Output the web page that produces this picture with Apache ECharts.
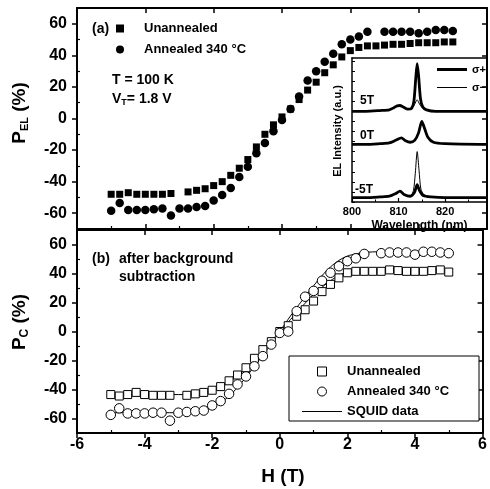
<!DOCTYPE html>
<html><head><meta charset="utf-8">
<script src="https://cdn.jsdelivr.net/npm/echarts@6/dist/echarts.min.js"></script>
<style>html,body{margin:0;padding:0;background:#fff}#c{width:490px;height:489px}</style>
</head><body><div id="c"></div>
<script>
// ---- data ----
const H = [-5,-4.75,-4.5,-4.25,-4,-3.75,-3.5,-3.25,-3,-2.75,-2.5,-2.25,-2,-1.75,-1.5,-1.25,-1,-0.75,-0.5,-0.25,0,0.25,0.5,0.75,1,1.25,1.5,1.75,2,2.25,2.5,2.75,3,3.25,3.5,3.75,4,4.25,4.5,4.75,5];
// panel (a) P_EL
const elUnannealed = [-48,-48,-47,-48,-48,-48,-48,-47.5,null,-46.5,-45.5,-44.5,-42.5,-40,-36,-31.5,-26,-18,-10,-4,1,6,12,18,23,29,34,39,43,45,46,46,46.5,47,47,47.5,48,48,48,48.5,48.5];
const elAnnealed = [-58.5,-53.5,-58,-58,-58,-57.5,-57,-61.5,-57,-57,-56,-55.5,-52,-48.5,-44,-37,-30.5,-22,-15.5,-8,-1,6,14,24,30,36,41,47,50,52,55,null,55,55,55,55,54,55,56,56,55.5];
// panel (b) P_C
const pcUnannealed = [-43.5,-44.5,-43.5,-42,-43.5,-44,-44,-44,null,-44,-43,-42,-40.5,-38,-34,-30,-25,-18.5,-12.5,-7,0,4,10.5,15,21,27.5,32.5,37,40.5,41.5,41.5,41.5,41.5,42.5,42,41.5,41.5,41.5,42,42.5,41];
const pcAnnealed = [-57.5,-53,-56.5,-56.5,-56.5,-56,-56,-61.5,-56,-55.5,-55,-54.5,-51,-48,-43,-36.5,-31,-24,-17,-9,-1,0,14,24,28,35,40.5,45,48.5,50.5,53.5,null,54,54.5,54.5,54.5,53,55,55,54.5,54];
// SQUID data
const squidH = [-5,-4,-3,-2.5,-2,-1.75,-1.5,-1.25,-1,-0.75,-0.5,-0.25,0,0.25,0.5,0.75,1,1.25,1.5,1.75,2,2.25,2.5,3,4,5];
const squidUn = [-43.5,-43.5,-43.5,-43,-41,-38.5,-35,-30.5,-25.5,-19.5,-13,-6.5,0,6.5,13,19.5,25.5,30.5,35,38.5,41,42,42.5,42.5,42.5,42.5];
const squidAn = [-56,-56,-56,-55,-52,-49,-44.5,-38.5,-31.5,-24,-16.5,-8.5,0,8.5,16.5,24,31.5,38.5,44.5,49,52,53.5,54.5,55,55,55];
// inset spectra (EL intensity, a.u., offset)
const wl5p  = [800,803,806,808,809,809.7,810.3,811,812,812.8,813.3,813.7,814,814.3,814.7,815.2,816,818,822,829];
const in5p  = [63,63,63.5,64,65.5,66.8,67,66,64.5,65,70,86,96,88,72,66,64,63,63,63];
const wl5m  = [800,803,806,808,809,809.7,810.3,811,812,812.8,813.4,814,814.5,815.2,816,818,822,829];
const in5m  = [63,63,63.5,64,65.5,66.8,67,66,64.5,65,67.5,71,68,65,64,63,63,63];
const wl0   = [800,803,806,808,809.5,810.6,811.5,812.5,813.5,814.3,815,815.6,816.3,817.5,820,829];
const in0p  = [40,40,40.5,41,43,44.5,42.5,41.5,43,48,56,51,45,41.5,40.5,40];
const in0m  = [40,40,40.5,41,43,44.5,42.5,41.5,43,48,55,50,44.5,41.5,40.5,40];
const wlN5p = [800,803,806,808,809.5,810.3,811.3,812.5,813.4,814,814.5,815.3,817,820,829];
const inN5p = [3,3,3.5,4,6,7.5,5,4,6.5,12,8,4.5,3.5,3,3];
const wlN5m = [800,803,806,808,809.5,810.3,811.3,812.5,813.2,813.6,814,814.4,814.8,815.5,817,820,829];
const inN5m = [3,3,3.5,4,6,7.5,5,4,8,20,35,22,9,5,3.5,3,3];
// ticks
const hMinor = [-5,-3,-1,1,3,5];
const pTicks = [-60,-40,-20,0,20,40,60];
const pMinor = [-50,-30,-10,10,30,50];
const wlTicks = [800,810,820];
const wlMinor = [805,815,825];
const inTicks = [0,7,14,21,28,35,42,49,56,63,70,77,84,91,98];

// ---- build ----
const F = '"Liberation Sans", Arial, sans-serif';
const K = '#000';
function pairs(xs, ys){ const o=[]; xs.forEach((x,i)=>{ if(ys[i]!==null) o.push([x,ys[i]]); }); return o; }
const noLine = {show:false, onZero:false};

function xAx(grid, pos, o){
  return Object.assign({type:'value', gridIndex:grid, position:pos, min:-6, max:6, interval:2,
    axisLine:{show:true, onZero:false, lineStyle:{color:K, width:2}},
    axisTick:{show:true, inside:true, length:5, lineStyle:{color:K, width:1.5}},
    axisLabel:{show:false}, splitLine:{show:false}}, o||{});
}
function yAx(grid, pos, o){
  return Object.assign({type:'value', gridIndex:grid, position:pos, min:-70, max:70,
    axisLine:{show:true, onZero:false, lineStyle:{color:K, width:2}},
    axisTick:{show:true, inside:true, length:5, customValues:pTicks, lineStyle:{color:K, width:1.5}},
    axisLabel:{show:false}, splitLine:{show:false}}, o||{});
}
const minorX = (grid) => xAx(grid,'bottom',{axisLine:noLine, axisTick:{show:true, inside:true, length:3, customValues:hMinor, lineStyle:{color:K,width:1.2}}});
const minorY = (grid) => yAx(grid,'left',{axisLine:noLine, axisTick:{show:true, inside:true, length:3, customValues:pMinor, lineStyle:{color:K,width:1.2}}});
const yLab = {show:true, customValues:pTicks, fontSize:16, fontWeight:'bold', fontFamily:F, color:K, margin:10};

const xAxis = [
  xAx(0,'bottom'),
  xAx(0,'top'),
  xAx(1,'bottom',{axisTick:{show:true, inside:false, length:5, lineStyle:{color:K,width:1.5}},
      axisLabel:{show:true, fontSize:16, fontWeight:'bold', fontFamily:F, color:K, margin:4}}),
  xAx(1,'top'),
  minorX(0),
  minorX(1),
  {type:'value', gridIndex:2, position:'bottom', min:800, max:829,
    axisLine:{show:true, onZero:false, lineStyle:{color:K, width:1.5}},
    axisTick:{show:true, inside:true, length:4, customValues:wlTicks, lineStyle:{color:K,width:1.2}},
    axisLabel:{show:true, customValues:wlTicks, fontSize:11, fontWeight:'bold', fontFamily:F, color:K, margin:4},
    name:'Wavelength (nm)', nameLocation:'middle', nameGap:18,
    nameTextStyle:{fontSize:12, fontWeight:'bold', fontFamily:F, color:K},
    splitLine:{show:false}},
  {type:'value', gridIndex:2, position:'bottom', min:800, max:829,
    axisLine:noLine, axisTick:{show:true, inside:true, length:2.5, customValues:wlMinor, lineStyle:{color:K,width:1}},
    axisLabel:{show:false}, splitLine:{show:false}},
  {type:'value', gridIndex:2, position:'top', min:800, max:829,
    axisLine:{show:true, onZero:false, lineStyle:{color:K, width:1.5}}, axisTick:{show:false},
    axisLabel:{show:false}, splitLine:{show:false}}
];
const yAxis = [
  yAx(0,'left',{axisTick:{show:true, inside:false, length:5, customValues:pTicks, lineStyle:{color:K,width:1.5}}, axisLabel:yLab}),
  yAx(0,'right'),
  minorY(0),
  yAx(1,'left',{axisTick:{show:true, inside:false, length:5, customValues:pTicks, lineStyle:{color:K,width:1.5}}, axisLabel:yLab}),
  yAx(1,'right'),
  minorY(1),
  {type:'value', gridIndex:2, position:'left', min:0, max:100,
    axisLine:{show:true, onZero:false, lineStyle:{color:K, width:1.5}},
    axisTick:{show:true, inside:true, length:3, customValues:inTicks, lineStyle:{color:K,width:1}},
    axisLabel:{show:false}, splitLine:{show:false}},
  {type:'value', gridIndex:2, position:'right', min:0, max:100,
    axisLine:{show:true, onZero:false, lineStyle:{color:K, width:1.5}}, axisTick:{show:false},
    axisLabel:{show:false}, splitLine:{show:false}}
];

const openStyle = {color:'#fff', borderColor:K, borderWidth:1, opacity:1};
const solidStyle = {color:K, opacity:1};
const spec = (name, xs, ys, w) => ({type:'line', name, xAxisIndex:6, yAxisIndex:6, data:pairs(xs,ys),
  showSymbol:false, symbol:'none', smooth:0.25, lineStyle:{color:K, width:w}, itemStyle:{color:K}, z:3, silent:true});

const series = [
  {type:'scatter', name:'Unannealed', xAxisIndex:0, yAxisIndex:0, data:pairs(H, elUnannealed), symbol:'rect', symbolSize:7, itemStyle:solidStyle},
  {type:'scatter', name:'Annealed 340 °C', xAxisIndex:0, yAxisIndex:0, data:pairs(H, elAnnealed), symbol:'circle', symbolSize:8.5, itemStyle:solidStyle},
  {type:'line', name:'SQUID data', xAxisIndex:2, yAxisIndex:3, data:pairs(squidH, squidUn), symbol:'none', showSymbol:false, smooth:0.4, lineStyle:{color:K, width:1}, itemStyle:{color:K}, z:2},
  {type:'line', name:'SQUID data', xAxisIndex:2, yAxisIndex:3, data:pairs(squidH, squidAn), symbol:'none', showSymbol:false, smooth:0.4, lineStyle:{color:K, width:1}, itemStyle:{color:K}, z:2},
  {type:'scatter', name:'Unannealed', xAxisIndex:2, yAxisIndex:3, data:pairs(H, pcUnannealed), symbol:'rect', symbolSize:8, itemStyle:openStyle, z:4},
  {type:'scatter', name:'Annealed 340 °C', xAxisIndex:2, yAxisIndex:3, data:pairs(H, pcAnnealed), symbol:'circle', symbolSize:9.5, itemStyle:openStyle, z:4},
  spec('σ+', wl5p, in5p, 2.8), spec('σ−', wl5m, in5m, 1),
  spec('σ+', wl0, in0p, 2.8), spec('σ−', wl0, in0m, 1),
  spec('σ+', wlN5p, inN5p, 2.8), spec('σ−', wlN5m, inN5m, 1)
];

const SQ = 'path://M0,0H10V10H0Z';
const legTxt = {fontSize:13, fontWeight:'bold', fontFamily:F, color:K};
const legend = [
  {orient:'vertical', left:116, top:22, itemWidth:38, itemHeight:8, itemGap:8, padding:0, selectedMode:false,
   textStyle:legTxt,
   data:[{name:'Unannealed', icon:SQ, itemStyle:{color:K, borderWidth:0}},
         {name:'Annealed 340 °C', icon:'circle', itemStyle:{color:K, borderWidth:0}}]},
  {orient:'vertical', left:289, top:356, itemWidth:40, itemHeight:9, itemGap:7, padding:[9,30,3,13], selectedMode:false,
   borderColor:K, borderWidth:1, backgroundColor:'#fff', textStyle:legTxt,
   data:[{name:'Unannealed', icon:SQ, itemStyle:openStyle},
         {name:'Annealed 340 °C', icon:'circle', itemStyle:openStyle},
         {name:'SQUID data', icon:'path://M0,0H40V1H0Z', itemStyle:{color:K, borderWidth:0}}]},
  {orient:'vertical', left:437, top:64, itemWidth:30, itemHeight:8, itemGap:7, padding:0, selectedMode:false,
   textStyle:{fontSize:11, fontWeight:'bold', fontFamily:F, color:K},
   data:[{name:'σ+', icon:'path://M0,0H30V3H0Z', itemStyle:{color:K, borderWidth:0}},
         {name:'σ−', icon:'path://M0,0H30V1H0Z', itemStyle:{color:K, borderWidth:0}}]}
];

function txt(x, y, text, size, extra){
  return {type:'text', x, y, z:100,
    style:Object.assign({text, fontSize:size, fontWeight:'bold', fontFamily:F, fill:K, verticalAlign:'middle', align:'left'}, extra||{})};
}
const sub = (big, small) => ({
  big:{fontSize:big, fontWeight:'bold', fontFamily:F, fill:K, lineHeight:big+2},
  sm:{fontSize:small, fontWeight:'bold', fontFamily:F, fill:K, verticalAlign:'bottom', lineHeight:small+1, padding:[Math.round(big*0.6),0,0,0]}
});
const graphic = [
  txt(92, 29, '(a)', 14),
  txt(112, 80, 'T = 100 K', 14),
  {type:'text', x:112, y:99, z:100, style:{text:'{big|V}{sm|T}{big|= 1.8 V}', rich:sub(14,9), verticalAlign:'middle', align:'left'}},
  txt(92, 259, '(b)', 14),
  txt(119, 259, 'after background', 14),
  txt(119, 277, 'subtraction', 14),
  txt(360, 101, '5T', 12),
  txt(360, 136, '0T', 12),
  txt(355, 190, '-5T', 12),
  {type:'text', x:338, y:131, z:100, rotation:Math.PI/2, style:{text:'EL Intensity (a.u.)', fontSize:11, fontWeight:'bold', fontFamily:F, fill:K, align:'center', verticalAlign:'middle'}},
  {type:'text', x:20, y:113, z:100, rotation:Math.PI/2, style:{text:'{big|P}{sm|EL}{big| (%)}', rich:sub(19,11), align:'center', verticalAlign:'middle'}},
  {type:'text', x:20, y:322, z:100, rotation:Math.PI/2, style:{text:'{big|P}{sm|C}{big| (%)}', rich:sub(19,12), align:'center', verticalAlign:'middle'}},
  txt(283, 477, 'H (T)', 19, {align:'center'})
];

const chart = echarts.init(document.getElementById('c'), null, {renderer:'canvas'});
chart.setOption({
  animation:false,
  backgroundColor:'#fff',
  grid:[
    {left:77, width:410, top:8, height:221},
    {left:77, width:410, top:230, height:203},
    {left:352, width:135, top:58, height:144, show:true, backgroundColor:'#fff', borderWidth:0}
  ],
  xAxis, yAxis, series, legend, graphic
});
</script></body></html>
